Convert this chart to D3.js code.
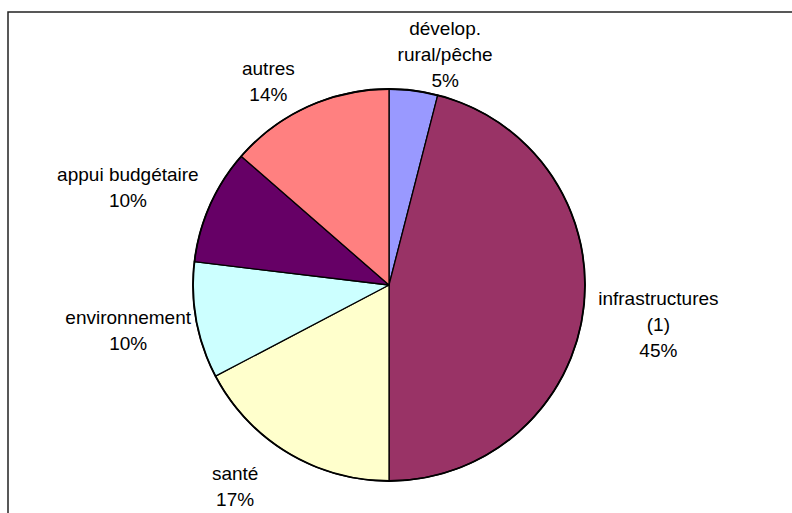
<!DOCTYPE html>
<html>
<head>
<meta charset="utf-8">
<script src="https://cdn.jsdelivr.net/npm/d3@7"></script>
<style>
  body { margin: 0; background: #fff; }
  text { font-family: "Liberation Sans", Arial, sans-serif; font-size: 19px; fill: #000; }
</style>
</head>
<body>
<svg id="chart" width="792" height="513"></svg>
<script>
// slices, clockwise from 12 o'clock
const categories = [["dévelop.", "rural/pêche"], ["infrastructures", "(1)"], ["santé"], ["environnement"], ["appui budgétaire"], ["autres"]];
const values = [4.0, 46.0, 17.3, 9.6, 9.5, 13.6];
const pctLabels = ["5%", "45%", "17%", "10%", "10%", "14%"];
const colors = ["#9999FF", "#993366", "#FFFFCC", "#CCFFFF", "#660066", "#FF8080"];

const svg = d3.select("#chart");
const width = 792, height = 513;
const cx = 389, cy = 285, radius = 196;
const lineH = 26;

// chart frame (only top and left edges are inside the picture)
svg.append("path")
  .attr("d", `M8,${height} V12 H${width}`)
  .attr("fill", "none")
  .attr("stroke", "#222")
  .attr("stroke-width", 1.5);

const pie = d3.pie().sort(null).value(d => d)(values);
const arc = d3.arc().innerRadius(0).outerRadius(radius);

const g = svg.append("g").attr("transform", `translate(${cx},${cy})`);

g.selectAll("path.slice")
  .data(pie)
  .join("path")
    .attr("class", "slice")
    .attr("d", arc)
    .attr("fill", (d, i) => colors[i])
    .attr("stroke", "#000")
    .attr("stroke-width", 1.3)
    .attr("stroke-linejoin", "round");

// slightly heavier outer rim
g.append("circle")
  .attr("r", radius)
  .attr("fill", "none")
  .attr("stroke", "#000")
  .attr("stroke-width", 1.8);

// label placement: box just outside the pie along the mid angle, then small nudges
const nudge = [[25, 15], [6, 6], [-31, -2], [2, -3], [-9, 14], [-22, 13]];
const ctx = document.createElement("canvas").getContext("2d");
ctx.font = '18px "Liberation Sans", Arial';

pie.forEach((d, i) => {
  const lines = categories[i].concat([pctLabels[i]]);
  const hw = d3.max(lines, l => ctx.measureText(l).width) / 2;
  const hh = lines.length * lineH / 2;
  const a = (d.startAngle + d.endAngle) / 2;
  const s = Math.sin(a), c = Math.cos(a);
  const dist = radius + 8 + hw * Math.abs(s) + hh * Math.abs(c);
  const lx = dist * s + nudge[i][0];
  const ly = -dist * c + nudge[i][1];
  const t = g.append("text").attr("text-anchor", "middle");
  lines.forEach((l, j) => {
    t.append("tspan")
      .attr("x", lx)
      .attr("y", ly - (lines.length - 1) * lineH / 2 + j * lineH + 7)
      .text(l);
  });
});
</script>
</body>
</html>
